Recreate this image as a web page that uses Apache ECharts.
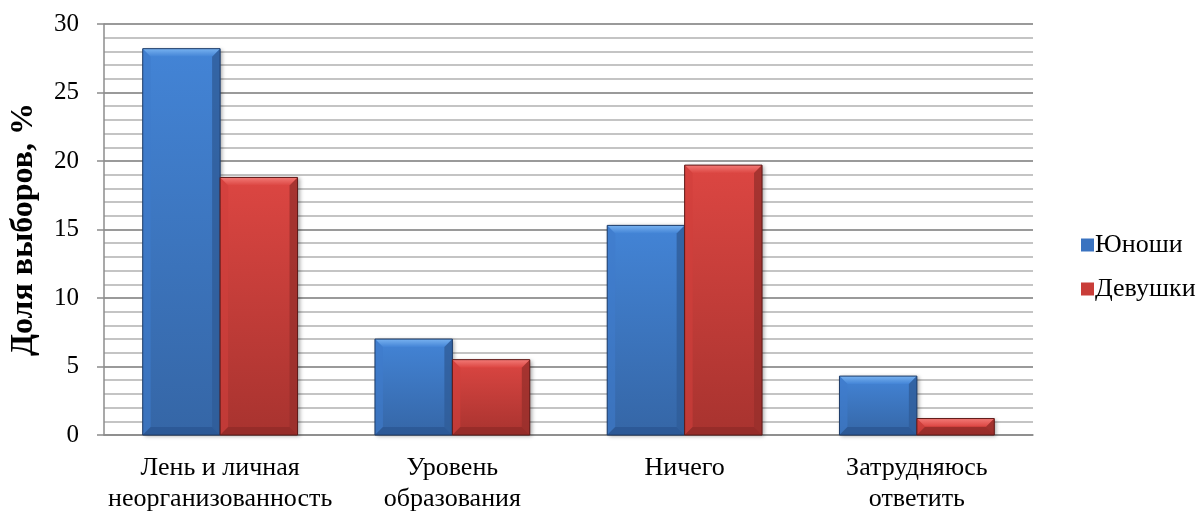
<!DOCTYPE html>
<html>
<head>
<meta charset="utf-8">
<script src="https://cdn.jsdelivr.net/npm/echarts@6/dist/echarts.min.js"></script>
<style>
  html, body { margin: 0; padding: 0; background: #fff; }
  #chart { width: 1200px; height: 515px; }
</style>
</head>
<body>
<div id="chart"></div>
<script>
// Reasons named by respondents, share of choices (%)
const categories = ['Лень и личная\nнеорганизованность', 'Уровень\nобразования', 'Ничего', 'Затрудняюсь\nответить'];
const boys = [28.2, 7.0, 15.3, 4.3];
const girls = [18.8, 5.5, 19.7, 1.2];
const seriesNames = ['Юноши', 'Девушки'];
const yTicks = { min: 0, max: 30, interval: 5 };

const palettes = [
  { face: ['#4384d6', '#3566a6'], top: '#78b2f0', side: '#3f7ccb', sideR: '#2f5d98', bottom: '#2a5490', edge: '#1e3c68', legend: '#3a73c0' },
  { face: ['#dc4642', '#a8332f'], top: '#f27a76', side: '#d0403c', sideR: '#98302c', bottom: '#8e2a27', edge: '#5e1a18', legend: '#c93d39' }
];

// Bevelled bar drawn from the category/value scales
function bevelBar(seriesIdx) {
  const p = palettes[seriesIdx];
  return function (params, api) {
    const cat = api.value(0);
    const val = api.value(1);
    const base = api.coord([cat, 0]);
    const top = api.coord([cat, val]);
    const catW = api.size([1, 0])[0];
    const barW = catW / 3;
    const x0 = base[0] - barW + seriesIdx * barW;
    const x1 = x0 + barW;
    const y0 = top[1];
    const y1 = base[1];
    const h = y1 - y0;
    const b = Math.min(8, h / 2);
    return {
      type: 'group',
      children: [
        { type: 'rect', shape: { x: x0, y: y0, width: barW, height: h },
          style: { fill: new echarts.graphic.LinearGradient(0, 0, 0, 1, [
            { offset: 0, color: p.face[0] }, { offset: 1, color: p.face[1] }]),
            shadowBlur: 4, shadowOffsetX: 2, shadowOffsetY: 1, shadowColor: 'rgba(0,0,0,0.35)' } },
        // top bevel
        { type: 'polygon', shape: { points: [[x0, y0], [x1, y0], [x1 - b, y0 + b], [x0 + b, y0 + b]] },
          style: { fill: new echarts.graphic.LinearGradient(0, 0, 0, 1, [
            { offset: 0, color: p.top }, { offset: 1, color: p.face[0] }]) } },
        // left bevel
        { type: 'polygon', shape: { points: [[x0, y0], [x0 + b, y0 + b], [x0 + b, y1 - b], [x0, y1]] },
          style: { fill: p.side, opacity: 0.6 } },
        // right bevel
        { type: 'polygon', shape: { points: [[x1, y0], [x1 - b, y0 + b], [x1 - b, y1 - b], [x1, y1]] },
          style: { fill: p.sideR, opacity: 0.8 } },
        // bottom bevel
        { type: 'polygon', shape: { points: [[x0, y1], [x0 + b, y1 - b], [x1 - b, y1 - b], [x1, y1]] },
          style: { fill: p.bottom, opacity: 0.7 } },
        // outline
        { type: 'rect', shape: { x: x0, y: y0, width: barW, height: h },
          style: { fill: null, stroke: p.edge, lineWidth: 1 } }
      ]
    };
  };
}

const chart = echarts.init(document.getElementById('chart'), null, { renderer: 'canvas' });
const serif = '"Liberation Serif", "Times New Roman", serif';

chart.setOption({
  animation: false,
  textStyle: { fontFamily: serif },
  grid: { left: 98, right: 167, top: 24, bottom: 76 },
  legend: {
    orient: 'vertical',
    left: 1076,
    top: 227,
    itemGap: 18,
    itemWidth: 13,
    itemHeight: 13,
    icon: 'rect',
    textStyle: { fontFamily: serif, fontSize: 26, color: '#000', padding: [0, 0, 0, -4] },
    data: seriesNames
  },
  xAxis: {
    type: 'category',
    data: categories,
    axisLine: { show: true, lineStyle: { color: '#8c8c8c', width: 1.5 } },
    axisTick: { show: false },
    axisLabel: { fontFamily: serif, fontSize: 26, color: '#000', margin: 18, lineHeight: 31, interval: 0 }
  },
  yAxis: {
    type: 'value',
    min: yTicks.min,
    max: yTicks.max,
    interval: yTicks.interval,
    name: 'Доля выборов, %',
    nameLocation: 'middle',
    nameRotate: 90,
    nameGap: 64,
    nameTextStyle: { fontFamily: serif, fontSize: 32, fontWeight: 'bold', color: '#000' },
    axisLine: { show: true, lineStyle: { color: '#8c8c8c', width: 1.5 } },
    axisTick: { show: true, length: 7, lineStyle: { color: '#8c8c8c', width: 1.5 } },
    axisLabel: { fontFamily: serif, fontSize: 25, color: '#000', margin: 25 },
    splitLine: { show: true, lineStyle: { color: '#9a9a9a', width: 2 } },
    minorSplitLine: { show: true, lineStyle: { color: '#c4c4c4', width: 2 } },
    minorTick: { show: false, splitNumber: 5 }
  },
  series: [
    { name: seriesNames[0], type: 'custom', renderItem: bevelBar(0), itemStyle: { color: palettes[0].legend },
      encode: { x: 0, y: 1 }, data: boys.map((v, i) => [i, v]) },
    { name: seriesNames[1], type: 'custom', renderItem: bevelBar(1), itemStyle: { color: palettes[1].legend },
      encode: { x: 0, y: 1 }, data: girls.map((v, i) => [i, v]) }
  ]
});
</script>
</body>
</html>
